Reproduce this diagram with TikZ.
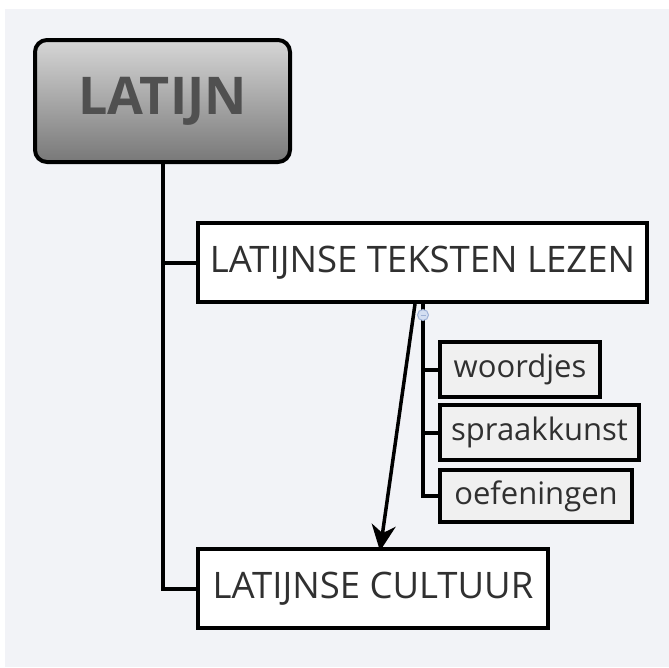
\documentclass[tikz,border=0pt]{standalone}
\usepackage{fontspec}
\setmainfont{Open Sans}
\usetikzlibrary{arrows.meta}
\definecolor{bgc}{HTML}{F2F3F7}
\definecolor{txt}{HTML}{303030}
\definecolor{subfill}{HTML}{F0F0F0}
\definecolor{coltop}{HTML}{D6D6D6}
\definecolor{colbot}{HTML}{787878}
\definecolor{latxt}{HTML}{505050}
\definecolor{knob}{HTML}{D4DFF2}
\definecolor{knobd}{HTML}{9FB2D6}
\tikzset{
  topic/.style={draw=black, line width=4pt, fill=white, text=txt, inner sep=0pt,
    font=\fontsize{36.5}{40}\selectfont},
  subtopic/.style={draw=black, line width=4pt, fill=subfill, text=txt, inner sep=0pt,
    font=\fontsize{31}{34}\selectfont},
  conn/.style={line width=4pt, black},
}
\begin{document}
\begin{tikzpicture}[x=1pt,y=-1pt]
\useasboundingbox (0,0) rectangle (669,667);
\fill[bgc] (5,9) rectangle (669,667);
% central topic
\node[draw=black, line width=4pt, rounded corners=12pt, top color=coltop, bottom color=colbot,
  minimum width=255pt, minimum height=122pt, inner sep=0pt, text=latxt,
  font=\fontsize{52}{56}\selectfont\bfseries] (lat) at (162.5,101) {LATIJN};
% main topics
\node[topic, minimum width=449pt, minimum height=79pt] (tek) at (422.5,262.5) {LATIJNSE TEKSTEN LEZEN};
\node[topic, minimum width=350pt, minimum height=79pt] (cul) at (373,588.5) {LATIJNSE CULTUUR};
% subtopics
\node[subtopic, minimum width=160pt, minimum height=55pt] (w) at (520,369.5) {woordjes};
\node[subtopic, minimum width=199pt, minimum height=55pt] (s) at (539.5,432.5) {spraakkunst};
\node[subtopic, minimum width=192pt, minimum height=52pt] (o) at (536,496) {oefeningen};
% connectors
\draw[conn] (lat.south) |- (tek.west);
\draw[conn] (lat.south) |- (cul.west);
\draw[conn] (tek.south) |- (w.west);
\draw[conn] (tek.south) |- (s.west);
\draw[conn] (tek.south) |- (o.west);
% redraw boxes on top of lines
\node[topic, minimum width=449pt, minimum height=79pt] at (tek) {LATIJNSE TEKSTEN LEZEN};
\node[topic, minimum width=350pt, minimum height=79pt] at (cul) {LATIJNSE CULTUUR};
% collapse knob
\node[circle, draw=knobd, fill=knob, line width=1pt, minimum size=11pt, inner sep=0pt] (knob) at (423,315) {};
\draw[knobd, line width=1pt] ([xshift=-2.5pt]knob.center) -- ([xshift=2.5pt]knob.center);
% relationship arrow
\coordinate (arrS) at (415,304);
\coordinate (arrE) at (380,551);
\draw[line width=3.5pt, -{Stealth[length=26pt, width=24pt, inset=8pt]}] (arrS) -- (arrE);
\end{tikzpicture}
\end{document}
